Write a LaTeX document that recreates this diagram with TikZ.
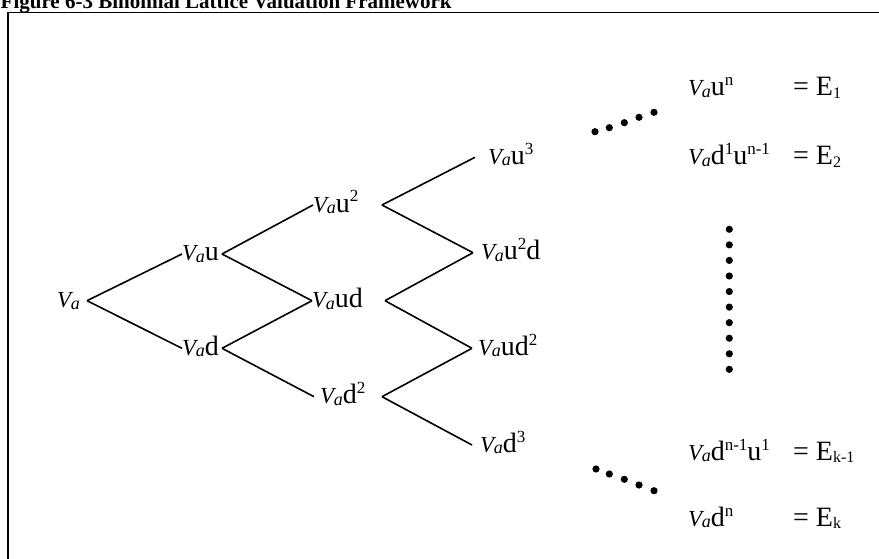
\documentclass[tikz,border=0pt]{standalone}
\usepackage{fontspec}
\setmainfont{Liberation Serif}
\usetikzlibrary{calc}

% label typography
\newcommand{\lblsize}{\fontsize{28}{30}\selectfont}
\newcommand{\Va}{{\fontsize{23}{24}\selectfont\itshape V\kern-0.5pt\raisebox{-1.5pt}{\fontsize{18}{19}\selectfont a}}}
\newcommand{\sus}[1]{\raisebox{10pt}{\fontsize{17}{18}\selectfont #1}}
\newcommand{\sbs}[1]{\raisebox{-2.5pt}{\fontsize{16}{17}\selectfont #1}}

\begin{document}
\begin{tikzpicture}[x=1pt,y=-1pt,
  lbl/.style={inner sep=0pt, anchor=base west, font=\lblsize},
  edge/.style={line width=1.6pt},
  frame/.style={line width=1.8pt},
  dotmark/.style={fill=black}]
\useasboundingbox (0,0) rectangle (879,559);

% title and frame
\node[anchor=base west, inner sep=0pt, font=\bfseries\fontsize{21}{23}\selectfont] (title) at (0.5,8.5)
  {Figure 6-3 Binomial Lattice Valuation Framework};
\draw[frame] (7.7,12.6) rectangle (900,580);

% lattice nodes
\node[lbl] (v0)    at (57,307.7)  {\Va};
\node[lbl] (v1u)   at (182,261)   {\Va u};
\node[lbl] (v1d)   at (182,355.3) {\Va d};
\node[lbl] (v2uu)  at (313,212)   {\Va u\sus{2}};
\node[lbl] (v2ud)  at (312,307.7) {\Va ud};
\node[lbl] (v2dd)  at (320,403.7) {\Va d\sus{2}};
\node[lbl] (v3uuu) at (488,164.3) {\Va u\sus{3}};
\node[lbl] (v3uud) at (481,259.7) {\Va u\sus{2}d};
\node[lbl] (v3udd) at (478,355.3) {\Va ud\sus{2}};
\node[lbl] (v3ddd) at (480,452)   {\Va d\sus{3}};

% lattice branches
\draw[edge] ($(v0.base west)+(30,-7)$) -- ($(v1u.base west)+(0,-7)$);
\draw[edge] ($(v0.base west)+(30,-7)$) -- ($(v1d.base west)+(0,-7)$);
\draw[edge] ($(v1u.base west)+(40,-7)$) -- ($(v2uu.base west)+(0,-7)$);
\draw[edge] ($(v1u.base west)+(40,-7)$) -- ($(v2ud.base west)+(0,-7)$);
\draw[edge] ($(v1d.base west)+(40,-7)$) -- ($(v2ud.base west)+(0,-7)$);
\draw[edge] ($(v1d.base west)+(40,-7)$) -- ($(v2dd.base west)+(-6,-7)$);
\draw[edge] ($(v2uu.base west)+(69,-7)$) -- ($(v3uuu.base west)+(-13,-7)$);
\draw[edge] ($(v2uu.base west)+(69,-7)$) -- ($(v3uud.base west)+(-8,-7)$);
\draw[edge] ($(v2ud.base west)+(73,-7)$) -- ($(v3uud.base west)+(-8,-7)$);
\draw[edge] ($(v2ud.base west)+(73,-7)$) -- ($(v3udd.base west)+(-6,-7)$);
\draw[edge] ($(v2dd.base west)+(62,-7)$) -- ($(v3udd.base west)+(-6,-7)$);
\draw[edge] ($(v2dd.base west)+(62,-7)$) -- ($(v3ddd.base west)+(-8,-7)$);

% ellipsis dots
\foreach \x/\y in {595/131.7, 609.3/127.7, 624.3/122.7, 639/117.3, 654/112.3,
                   596/469, 609.3/474, 624.3/479.3, 639/485, 654/490.7}
  \fill[dotmark] (\x,\y) circle (3.6);
\foreach \i in {0,...,9}
  \fill[dotmark] (729.3,229.3+15.56*\i) circle (3.6);

% terminal values
\node[lbl] (t1) at (688,96)  {\Va u\sus{n}};
\node[lbl] (t2) at (688,165) {\Va d\sus{1}u\sus{n-1}};
\node[lbl] (t3) at (688,460) {\Va d\sus{n-1}u\sus{1}};
\node[lbl] (t4) at (688,526) {\Va d\sus{n}};
\node[lbl] (e1) at (793,96)  {= E\sbs{1}};
\node[lbl] (e2) at (793,165) {= E\sbs{2}};
\node[lbl] (e3) at (793,460) {= E\sbs{k-1}};
\node[lbl] (e4) at (793,526) {= E\sbs{k}};
\end{tikzpicture}
\end{document}
